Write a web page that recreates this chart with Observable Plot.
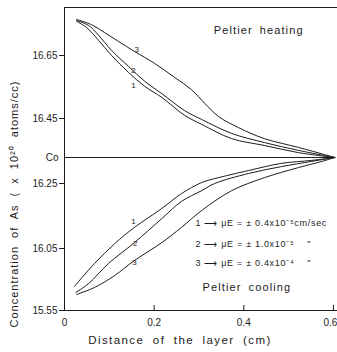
<!DOCTYPE html>
<html><head><meta charset="utf-8">
<script src="https://cdn.jsdelivr.net/npm/d3@7"></script>
<script src="https://cdn.jsdelivr.net/npm/@observablehq/plot@0.6"></script>
<style>
body{margin:0;background:#fff;}
#chart svg{display:block;}
</style></head><body><div id="chart"></div>
<script>
// Axis ticks (the printed y-axis is not uniform, so the scale is piecewise)
const yTicks = [15.55, 16.05, 16.25, 16.45, 16.65];
const coLevel = 16.33;          // "Co" (initial concentration)
const yTop = 16.802;
const xTicks = [0, 0.2, 0.4, 0.6];

// Peltier heating curves [distance (cm), concentration]
const heating1 = [[0.027,16.758],[0.049,16.739],[0.076,16.698],[0.105,16.650],[0.143,16.596],[0.179,16.552],[0.217,16.517],[0.268,16.460],[0.306,16.432],[0.373,16.388],[0.446,16.367],[0.522,16.345],[0.603,16.33]];
const heating2 = [[0.027,16.761],[0.054,16.745],[0.076,16.714],[0.105,16.666],[0.143,16.615],[0.179,16.568],[0.217,16.529],[0.268,16.475],[0.306,16.447],[0.373,16.404],[0.446,16.376],[0.522,16.352],[0.580,16.336],[0.603,16.33]];
const heating3 = [[0.027,16.764],[0.060,16.748],[0.089,16.723],[0.121,16.694],[0.156,16.663],[0.201,16.625],[0.246,16.580],[0.283,16.542],[0.313,16.498],[0.344,16.456],[0.388,16.422],[0.446,16.388],[0.522,16.361],[0.580,16.339],[0.603,16.33]];

// Peltier cooling curves
const cooling1 = [[0.022,15.744],[0.067,15.929],[0.112,16.065],[0.156,16.115],[0.217,16.173],[0.261,16.219],[0.306,16.253],[0.335,16.265],[0.411,16.290],[0.484,16.312],[0.551,16.321],[0.603,16.33]];
const cooling2 = [[0.025,15.695],[0.054,15.768],[0.098,15.929],[0.156,16.068],[0.217,16.142],[0.261,16.195],[0.306,16.228],[0.335,16.250],[0.411,16.281],[0.484,16.302],[0.551,16.318],[0.603,16.33]];
const cooling3 = [[0.027,15.679],[0.067,15.736],[0.112,15.832],[0.156,15.953],[0.217,16.068],[0.261,16.115],[0.306,16.167],[0.373,16.228],[0.446,16.268],[0.522,16.299],[0.574,16.318],[0.603,16.33]];

// Curve number labels
const curveLabels = [
  {x:0.161, y:16.669, t:"3"}, {x:0.154, y:16.602, t:"2"}, {x:0.154, y:16.555, t:"1"},
  {x:0.154, y:16.133, t:"1"}, {x:0.158, y:16.065, t:"2"}, {x:0.156, y:15.937, t:"3"}
];
const legendLines = [
  {x:0.292, y:16.127, t:"1 \u27F6 \u03BCE = \u00B1 0.4x10\u207B\u2075cm/sec"},
  {x:0.292, y:16.065, t:"2 \u27F6 \u03BCE = \u00B1 1.0x10\u207B\u2075\u00A0\u00A0\u00A0\u00A0\""},
  {x:0.292, y:15.929, t:"3 \u27F6 \u03BCE = \u00B1 0.4x10\u207B\u2074\u00A0\u00A0\u00A0\u00A0\""}
];
const notes = [
  {x:0.333, y:16.729, t:"Peltier heating"},
  {x:0.308, y:15.736, t:"Peltier cooling"}
];
const xLabel = "Distance of the layer (cm)";
const yLabel = "Concentration of As ( x 10\u00B2\u2070 atoms/cc)";

const series = [
  ["H1", heating1], ["H2", heating2], ["H3", heating3],
  ["C1", cooling1], ["C2", cooling2], ["C3", cooling3]
];
const rows = series.flatMap(([s, pts]) => pts.map(([x, y]) => ({s, x, y})));

// piecewise warp of the printed (non-uniform) concentration axis onto a uniform level
const warp = d3.scaleLinear()
  .domain([15.55, 16.05, 16.25, coLevel, 16.45, 16.65, yTop])
  .range([0, 62, 127, 153, 192, 255, 303]);

const ink = "#1c1c1c";
const font = "'Liberation Sans', Arial, sans-serif";

const chart = Plot.plot({
  width: 337, height: 352,
  marginLeft: 64, marginRight: 0, marginTop: 7, marginBottom: 42,
  style: {fontFamily: font, fontSize: "10px", color: ink, background: "#fff"},
  x: {domain: [0, 0.609]},
  y: {transform: v => warp(v), domain: [0, 303]},
  marks: [
    Plot.ruleX([0], {stroke: ink}),
    Plot.ruleY([15.55], {stroke: ink}),
    Plot.ruleY([yTop], {stroke: ink}),
    Plot.ruleY([coLevel], {x1: 0, x2: 0.603, stroke: ink}),
    Plot.axisY(yTicks, {tickSize: 5, tickPadding: 2, tickFormat: d => d.toFixed(2), label: null, fontSize: 10}),
    Plot.axisX([0, 0.2, 0.4], {tickSize: 0, tickPadding: 8, tickFormat: d => d === 0 ? "0" : d.toFixed(1), label: null, fontSize: 10}),
    Plot.axisX([0.6], {tickSize: 0, tickPadding: 8, tickFormat: d => d.toFixed(1), label: null, fontSize: 10, dx: -3}),
    Plot.axisX([0.2, 0.4, 0.6], {tickSize: -5, tickFormat: () => "", label: null}),
    Plot.text([coLevel], {x: 0, y: d => d, text: () => "Co", textAnchor: "end", dx: -6, fontSize: 10}),
    Plot.line(rows, {x: "x", y: "y", z: "s", curve: "catmull-rom", stroke: ink, strokeWidth: 1}),
    Plot.text(curveLabels, {x: "x", y: "y", text: "t", fontSize: 8}),
    Plot.text(legendLines, {x: "x", y: "y", text: "t", textAnchor: "start", fontSize: 9}),
    Plot.text(notes, {x: "x", y: "y", text: "t", textAnchor: "start", fontSize: 11}),
    Plot.text([xLabel], {frameAnchor: "bottom", textAnchor: "middle", dx: -21, dy: 33, fontSize: 11.5}),
    Plot.text([yLabel], {frameAnchor: "left", textAnchor: "middle", rotate: -90, dx: -50, dy: 45, fontSize: 11})
  ]
});
document.getElementById("chart").appendChild(chart);

// letter-spacing like the typeset original
d3.select(chart).selectAll("text").each(function() {
  const t = this.textContent;
  if (t === xLabel) { this.style.letterSpacing = "1.4px"; this.style.wordSpacing = "4px"; }
  else if (t === yLabel) { this.style.letterSpacing = "1px"; this.style.wordSpacing = "4px"; }
  else if (notes.some(n => n.t === t)) { this.style.letterSpacing = "1.1px"; this.style.wordSpacing = "3px"; }
  else if (legendLines.some(n => n.t === t)) { this.style.letterSpacing = "0.7px"; }
});
</script></body></html>
